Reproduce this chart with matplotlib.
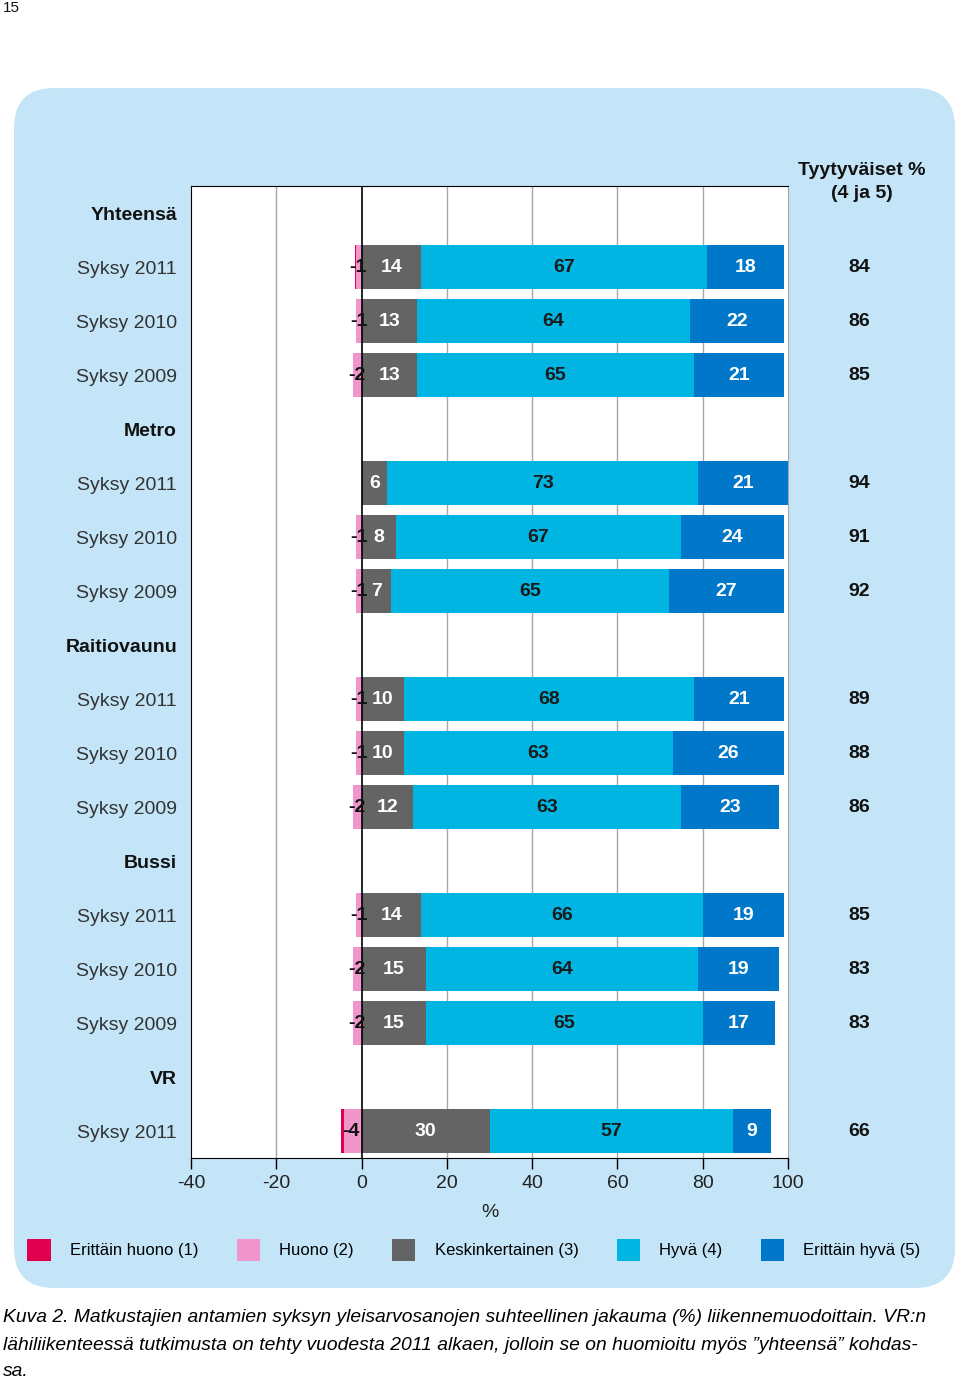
import matplotlib.pyplot as plt
from matplotlib.patches import FancyBboxPatch, Patch
from matplotlib.transforms import IdentityTransform, blended_transform_factory
import numpy as np

plt.rcParams['font.family'] = ['Liberation Sans', 'DejaVu Sans']
plt.rcParams['axes.unicode_minus'] = False

# Groups and seasons (top to bottom)
groups = ['Yhteensä', 'Metro', 'Raitiovaunu', 'Bussi', 'VR']
seasons = [['Syksy 2011', 'Syksy 2010', 'Syksy 2009'],
           ['Syksy 2011', 'Syksy 2010', 'Syksy 2009'],
           ['Syksy 2011', 'Syksy 2010', 'Syksy 2009'],
           ['Syksy 2011', 'Syksy 2010', 'Syksy 2009'],
           ['Syksy 2011']]

# Shares (%) per data row, flattened in the order above
very_bad = [0.4, 0, 0, 0, 0, 0, 0, 0, 0, 0, 0, 0, 0.8]
bad = [1.2, 1.2, 2.1, 0, 1.2, 1.2, 1.2, 1.2, 2.1, 1.2, 2.1, 2.1, 4.1]
neg_labels = ['-1', '-1', '-2', '', '-1', '-1', '-1', '-1', '-2', '-1', '-2', '-2', '-4']
neutral = [14, 13, 13, 6, 8, 7, 10, 10, 12, 14, 15, 15, 30]
good = [67, 64, 65, 73, 67, 65, 68, 63, 63, 66, 64, 65, 57]
very_good = [18, 22, 21, 21, 24, 27, 21, 26, 23, 19, 19, 17, 9]
satisfied = [84, 86, 85, 94, 91, 92, 89, 88, 86, 85, 83, 83, 66]

legend_labels = ['Erittäin huono (1)', 'Huono (2)', 'Keskinkertainen (3)', 'Hyvä (4)', 'Erittäin hyvä (5)']
colors = ['#e0004f', '#f096cc', '#646464', '#00b5e2', '#0077c8']

caption_lines = ["Kuva 2. Matkustajien antamien syksyn yleisarvosanojen suhteellinen jakauma (%) liikennemuodoittain. VR:n",
                 "lähiliikenteessä tutkimusta on tehty vuodesta 2011 alkaen, jolloin se on huomioitu myös ”yhteensä” kohdas-",
                 "sa."]

# Build row layout: header row then its season rows
row_labels, header_rows, data_rows = [], [], []
for g, ss in zip(groups, seasons):
    header_rows.append(len(row_labels))
    row_labels.append(g)
    for s in ss:
        data_rows.append(len(row_labels))
        row_labels.append(s)
data_rows = np.array(data_rows)

fig = plt.figure(figsize=(9.6, 13.82), dpi=100)

# light blue rounded background panel
bg = FancyBboxPatch((14, 1382 - 1288), 941, 1200, boxstyle="round,pad=0,rounding_size=40",
                    transform=IdentityTransform(), facecolor='#c3e5f7', edgecolor='none', zorder=-10)
fig.patches.append(bg)

ax = fig.add_axes([191 / 960, 1 - 1158 / 1382, 597 / 960, 972 / 1382])
ax.set_facecolor('white')

vb = np.array(very_bad)
b = np.array(bad)
n = np.array(neutral)
g4 = np.array(good)
g5 = np.array(very_good)
h = 0.8

ax.barh(data_rows, vb, left=-(vb + b), height=h, color=colors[0], zorder=3)
ax.barh(data_rows, b, left=-b, height=h, color=colors[1], zorder=3)
ax.barh(data_rows, n, left=0, height=h, color=colors[2], zorder=3)
ax.barh(data_rows, g4, left=n, height=h, color=colors[3], zorder=3)
ax.barh(data_rows, g5, left=n + g4, height=h, color=colors[4], zorder=3)

# value labels
for i, r in enumerate(data_rows):
    if neg_labels[i]:
        ax.text(-(vb[i] + b[i]) / 2, r, neg_labels[i], ha='center', va='center',
                fontsize=14, fontweight='bold', color='#111111', zorder=5)
    ax.text(n[i] / 2, r, str(neutral[i]), ha='center', va='center',
            fontsize=14, fontweight='bold', color='white', zorder=5)
    ax.text(n[i] + g4[i] / 2, r, str(good[i]), ha='center', va='center',
            fontsize=14, fontweight='bold', color='#1a1a1a', zorder=5)
    ax.text(n[i] + g4[i] + g5[i] / 2, r, str(very_good[i]), ha='center', va='center',
            fontsize=14, fontweight='bold', color='white', zorder=5)

# satisfied column on the right
trans = blended_transform_factory(ax.transAxes, ax.transData)
for r, s in zip(data_rows, satisfied):
    ax.text(1.119, r, str(s), transform=trans, ha='center', va='center',
            fontsize=14, fontweight='bold', color='#111111', clip_on=False)
fig.text(862 / 960, 1 - 182 / 1382, 'Tyytyväiset %\n(4 ja 5)', ha='center', va='center',
         fontsize=14, fontweight='bold', color='#111111', linespacing=1.45)

ax.set_xlim(-40, 100)
ax.set_ylim(len(row_labels) - 0.5, -0.5)
ax.set_xticks(np.arange(-40, 101, 20))
ax.tick_params(axis='x', length=8, width=1, labelsize=14, labelcolor='#222222', pad=4)
ax.set_yticks(range(len(row_labels)))
ax.set_yticklabels(row_labels, fontsize=14)
ax.tick_params(axis='y', length=0, pad=10)
for i, lab in enumerate(ax.get_yticklabels()):
    if i in header_rows:
        lab.set_fontweight('bold')
        lab.set_color('#111111')
    else:
        lab.set_color('#333333')

for x in [-20, 20, 40, 60, 80]:
    ax.axvline(x, color='#a6a6a6', lw=1, zorder=1)
ax.axvline(0, color='black', lw=1.2, zorder=4)
for side in ['left', 'top', 'bottom']:
    ax.spines[side].set_color('black')
ax.spines['right'].set_color('#a6a6a6')

ax.set_xlabel('%', fontsize=14, color='#222222', labelpad=9)

handles = [Patch(facecolor=c, edgecolor='none') for c in colors]
fig.legend(handles, legend_labels, loc='center', bbox_to_anchor=(474 / 960, 1 - 1250 / 1382),
           ncol=5, frameon=False, fontsize=12, handlelength=1.4, handleheight=1.6,
           handletextpad=1.15, columnspacing=2.3)

fig.text(3 / 960, 1 - 8 / 1382, '15', ha='left', va='center', fontsize=11, color='#111111')
for k, line in enumerate(caption_lines):
    fig.text(3 / 960, 1 - (1318 + 27 * k) / 1382, line, ha='left', va='center', fontsize=13.9,
             style='italic', color='black')

fig.savefig('out.png', dpi=100)
